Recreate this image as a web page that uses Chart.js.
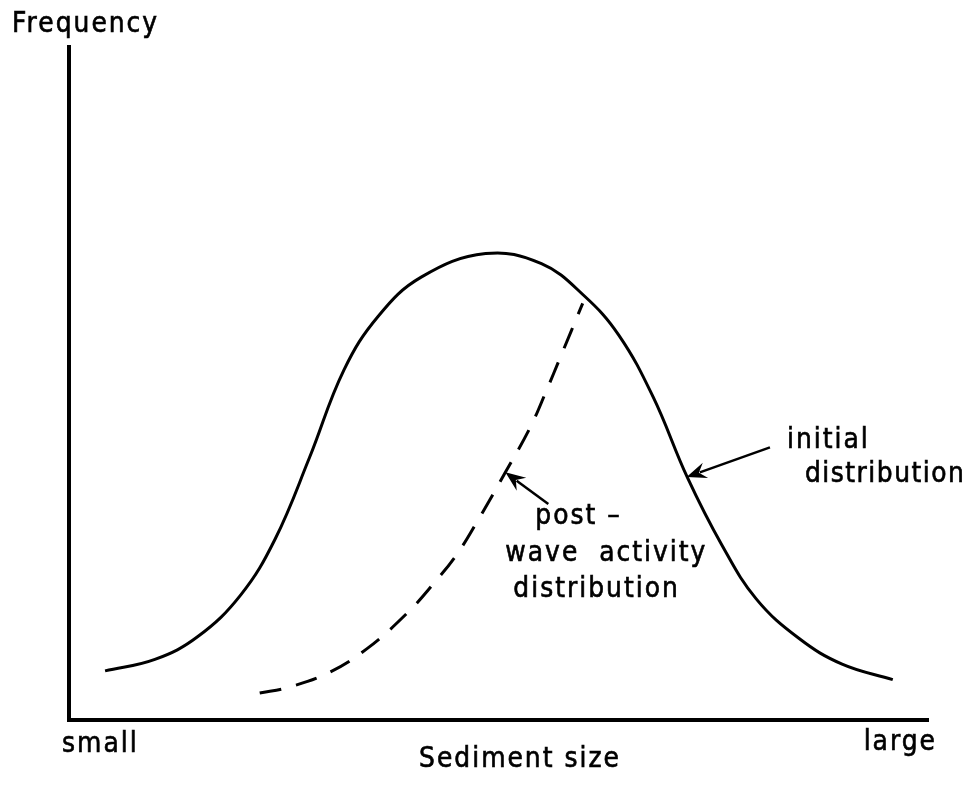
<!DOCTYPE html>
<html>
<head>
<meta charset="utf-8">
<title>Sediment size distribution</title>
<script src="https://cdn.jsdelivr.net/npm/chart.js@4.4.1/dist/chart.umd.min.js"></script>
<style>
  html, body { margin: 0; padding: 0; background: #fff; }
  #wrap { width: 970px; height: 785px; }
</style>
</head>
<body>
<div id="wrap"><canvas id="chart" width="970" height="785"></canvas></div>
<script>
// Sediment size runs 0 (small) .. 100 (large); frequency 0 .. 100 (relative)
const initialSize = [4.2, 10, 15, 20, 24, 28, 32, 36, 41, 48.5, 55, 60, 64, 68, 72, 76, 80, 85, 90, 95.9];
const initialFreq = [7.3, 9.0, 12.4, 18.6, 26.9, 39.0, 52.0, 60.0, 65.8, 69.3, 67.8, 63.0, 57.2, 48.0, 36.0,
                     26.0, 18.0, 12.1, 8.3, 6.0];

const postWaveSize = [22.2, 25.4, 30.2, 34.7, 39.3, 42.4, 45.2, 47.8, 50.8, 53.7, 55.6, 57.2, 59.8];
const postWaveFreq = [4.0, 4.8, 7.0, 10.6, 15.8, 20.2, 24.7, 30.1, 36.8, 43.5, 49.0, 53.9, 61.9];

const axisEnds = ['small', 'large'];
const xTitle = 'Sediment size';
const yTitle = 'Frequency';

// Annotation text lines and where their arrows point (data space)
const initialNote = ['initial', 'distribution'];
const postWaveNote = ['post \u2013', 'wave  activity', 'distribution'];
const initialArrow = { from: [81.6, 40.5], to: [71.9, 36.1] };
const postWaveArrow = { from: [55.8, 32.1], to: [50.8, 36.8] };

const toPoints = (xs, ys) => xs.map((x, i) => ({ x, y: ys[i] }));

const FONT = '25px "DejaVu Sans"';

// Lettering is a little taller and heavier than the plain font
function drawText(ctx, text, x, y, align) {
  ctx.save();
  ctx.textAlign = align || 'left';
  ctx.translate(x, y);
  ctx.scale(1, 1.1);
  ctx.lineWidth = 0.6;
  ctx.fillText(text, 0, 0);
  ctx.strokeText(text, 0, 0);
  ctx.restore();
}

function drawArrow(ctx, x0, y0, x1, y1) {
  const ang = Math.atan2(y1 - y0, x1 - x0);
  const cos = Math.cos(ang), sin = Math.sin(ang);
  const head = 20, half = 8;
  ctx.beginPath();
  ctx.moveTo(x0, y0);
  ctx.lineTo(x1 - cos * head * 0.7, y1 - sin * head * 0.7);
  ctx.stroke();
  ctx.beginPath();
  ctx.moveTo(x1, y1);
  ctx.lineTo(x1 - cos * head - sin * half, y1 - sin * head + cos * half);
  ctx.lineTo(x1 - cos * head * 0.65, y1 - sin * head * 0.65);
  ctx.lineTo(x1 - cos * head + sin * half, y1 - sin * head - cos * half);
  ctx.closePath();
  ctx.fill();
}

// Axis captions, annotations and arrows
const sketchLabels = {
  id: 'sketchLabels',
  afterDraw(chart) {
    const { ctx, chartArea, scales: { x, y } } = chart;
    ctx.save();
    ctx.fillStyle = '#000';
    ctx.strokeStyle = '#000';
    ctx.font = FONT;
    ctx.letterSpacing = '2px';
    ctx.textBaseline = 'alphabetic';

    drawText(ctx, yTitle, 12, 32);
    drawText(ctx, axisEnds[0], chartArea.left - 7, 752);
    drawText(ctx, axisEnds[1], chartArea.right + 9, 750, 'right');
    drawText(ctx, xTitle, 520, 767, 'center');

    // initial distribution
    const ix = x.getPixelForValue(initialArrow.from[0]);
    const iy = y.getPixelForValue(initialArrow.from[1]);
    drawText(ctx, initialNote[0], ix + 17, iy + 1);
    ctx.letterSpacing = '1.5px';
    drawText(ctx, initialNote[1], ix + 35, iy + 35);
    ctx.letterSpacing = '2px';

    // post-wave activity distribution
    const px = x.getPixelForValue(postWaveArrow.from[0]);
    const py = y.getPixelForValue(postWaveArrow.from[1]);
    drawText(ctx, postWaveNote[0], px - 13, py + 20);
    drawText(ctx, postWaveNote[1], px - 43, py + 57);
    drawText(ctx, postWaveNote[2], px - 35, py + 93);

    ctx.lineWidth = 2.5;
    [initialArrow, postWaveArrow].forEach(a => {
      drawArrow(ctx,
        x.getPixelForValue(a.from[0]), y.getPixelForValue(a.from[1]),
        x.getPixelForValue(a.to[0]), y.getPixelForValue(a.to[1]));
    });
    ctx.restore();
  }
};

new Chart(document.getElementById('chart').getContext('2d'), {
  type: 'line',
  data: {
    datasets: [{
      label: 'initial distribution',
      data: toPoints(initialSize, initialFreq),
      borderColor: '#000',
      borderWidth: 3,
      pointRadius: 0,
      tension: 0.4,
      fill: false
    }, {
      label: 'post-wave activity distribution',
      data: toPoints(postWaveSize, postWaveFreq),
      borderColor: '#000',
      borderWidth: 3,
      borderDash: [22, 15],
      pointRadius: 0,
      tension: 0.4,
      fill: false
    }]
  },
  options: {
    responsive: false,
    animation: false,
    devicePixelRatio: 1,
    layout: { padding: { left: 69, right: 42, top: 47, bottom: 65 } },
    plugins: {
      legend: { display: false },
      tooltip: { enabled: false }
    },
    scales: {
      x: {
        type: 'linear',
        min: 0,
        max: 100,
        grid: { display: false },
        ticks: { display: false },
        border: { display: true, color: '#000', width: 4 },
        afterFit: s => { s.height = 0; }
      },
      y: {
        min: 0,
        max: 100,
        grid: { display: false },
        ticks: { display: false },
        border: { display: true, color: '#000', width: 4 },
        afterFit: s => { s.width = 0; }
      }
    }
  },
  plugins: [sketchLabels]
});
</script>
</body>
</html>
